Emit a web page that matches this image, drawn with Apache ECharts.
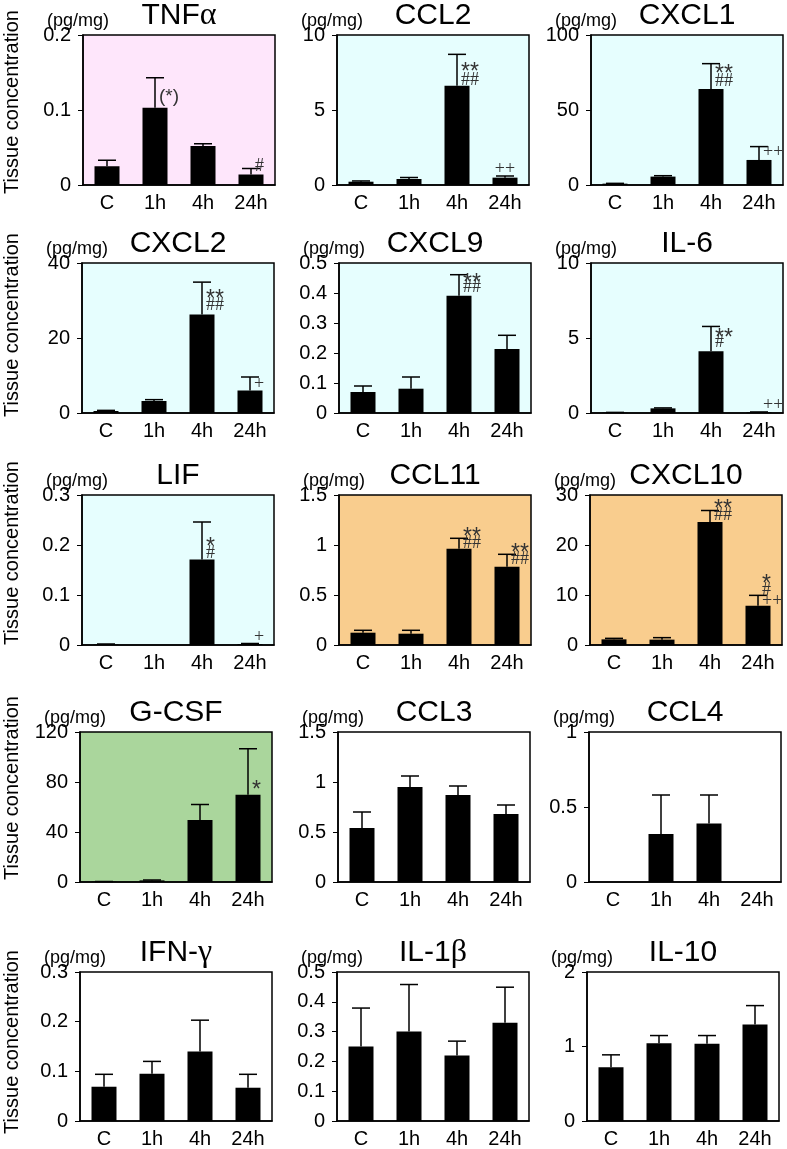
<!DOCTYPE html>
<html>
<head>
<meta charset="UTF-8">
<script src="https://cdn.jsdelivr.net/npm/echarts@6/dist/echarts.min.js"></script>
</head>
<body style="margin: 0; background: #fff;">
<div id="chart" style="width: 787px; height: 1149px;"></div>
<script>
// time points
var categories = ['C', '1h', '4h', '24h'];

// mean and error (upper whisker minus mean)
var tnfMean = [0.025, 0.103, 0.052, 0.014];
var tnfErr = [0.008, 0.040, 0.003, 0.008];
var ccl2Mean = [0.22, 0.40, 6.62, 0.49];
var ccl2Err = [0.05, 0.10, 2.09, 0.11];
var cxcl1Mean = [0.9, 5.6, 64.0, 16.7];
var cxcl1Err = [0.2, 0.6, 16.9, 8.9];
var cxcl2Mean = [0.53, 3.2, 26.3, 6.0];
var cxcl2Err = [0.17, 0.36, 8.6, 3.6];
var cxcl9Mean = [0.070, 0.081, 0.391, 0.213];
var cxcl9Err = [0.020, 0.039, 0.070, 0.046];
var il6Mean = [0.03, 0.31, 4.12, 0.05];
var il6Err = [0.01, 0.03, 1.65, 0.02];
var lifMean = [0.001, 0, 0.171, 0.002];
var lifErr = [0.001, 0, 0.075, 0.001];
var ccl11Mean = [0.123, 0.113, 0.963, 0.783];
var ccl11Err = [0.024, 0.034, 0.104, 0.124];
var cxcl10Mean = [1.13, 1.07, 24.6, 7.87];
var cxcl10Err = [0.20, 0.40, 2.3, 2.06];
var gcsfMean = [0.3, 1.3, 49.7, 69.8];
var gcsfErr = [0.1, 0.3, 12.3, 36.8];
var ccl3Mean = [0.54, 0.95, 0.87, 0.68];
var ccl3Err = [0.16, 0.11, 0.09, 0.09];
var ccl4Mean = [0, 0.32, 0.39, 0];
var ccl4Err = [0, 0.26, 0.19, 0];
var ifngMean = [0.069, 0.095, 0.140, 0.067];
var ifngErr = [0.025, 0.025, 0.063, 0.027];
var il1bMean = [0.25, 0.30, 0.22, 0.33];
var il1bErr = [0.129, 0.158, 0.048, 0.119];
var il10Mean = [0.723, 1.045, 1.036, 1.295];
var il10Err = [0.165, 0.102, 0.111, 0.254];

// significance marks: [category index, value at mark centre, text, 'c' = centred over bar]
var tnfNotes = [[1, 0.118, '(*)'], [3, 0.025, '#']];
var ccl2Notes = [[2, 7.82, '**'], [2, 7.0, '##'], [3, 1.04, '++', 'c']];
var cxcl1Notes = [[2, 76.7, '**'], [2, 69.3, '##'], [3, 21.6, '++']];
var cxcl2Notes = [[2, 31.6, '**'], [2, 28.7, '##'], [3, 7.75, '+']];
var cxcl9Notes = [[2, 0.448, '**'], [2, 0.419, '##']];
var il6Notes = [[2, 5.32, '**'], [2, 4.72, '#'], [3, 0.53, '++']];
var lifNotes = [[2, 0.205, '*'], [2, 0.184, '#'], [3, 0.015, '+']];
var ccl11Notes = [[2, 1.12, '**'], [2, 1.013, '##'], [3, 0.96, '**'], [3, 0.86, '##']];
var cxcl10Notes = [[2, 28.07, '**'], [2, 26.0, '##'], [3, 13.0, '*'], [3, 10.87, '#'], [3, 8.73, '++']];
var gcsfNotes = [[3, 77.2, '*']];

var PINK = '#fee6fb', CYAN = '#e6fefe', ORANGE = '#f9cd8e', GREEN = '#aad69c', WHITE = '#ffffff';

var panels = [
    { name: 'TNF', greek: 'α', mean: tnfMean, err: tnfErr, max: 0.2, step: 0.1, bg: PINK, notes: tnfNotes },
    { name: 'CCL2', mean: ccl2Mean, err: ccl2Err, max: 10, step: 5, bg: CYAN, notes: ccl2Notes },
    { name: 'CXCL1', mean: cxcl1Mean, err: cxcl1Err, max: 100, step: 50, bg: CYAN, notes: cxcl1Notes },
    { name: 'CXCL2', mean: cxcl2Mean, err: cxcl2Err, max: 40, step: 20, bg: CYAN, notes: cxcl2Notes },
    { name: 'CXCL9', mean: cxcl9Mean, err: cxcl9Err, max: 0.5, step: 0.1, bg: CYAN, notes: cxcl9Notes },
    { name: 'IL-6', mean: il6Mean, err: il6Err, max: 10, step: 5, bg: CYAN, notes: il6Notes },
    { name: 'LIF', mean: lifMean, err: lifErr, max: 0.3, step: 0.1, bg: CYAN, notes: lifNotes },
    { name: 'CCL11', mean: ccl11Mean, err: ccl11Err, max: 1.5, step: 0.5, bg: ORANGE, notes: ccl11Notes },
    { name: 'CXCL10', mean: cxcl10Mean, err: cxcl10Err, max: 30, step: 10, bg: ORANGE, notes: cxcl10Notes },
    { name: 'G-CSF', mean: gcsfMean, err: gcsfErr, max: 120, step: 40, bg: GREEN, notes: gcsfNotes },
    { name: 'CCL3', mean: ccl3Mean, err: ccl3Err, max: 1.5, step: 0.5, bg: WHITE, notes: [] },
    { name: 'CCL4', mean: ccl4Mean, err: ccl4Err, max: 1, step: 0.5, bg: WHITE, notes: [] },
    { name: 'IFN-', greek: 'γ', mean: ifngMean, err: ifngErr, max: 0.3, step: 0.1, bg: WHITE, notes: [] },
    { name: 'IL-1', greek: 'β', mean: il1bMean, err: il1bErr, max: 0.5, step: 0.1, bg: WHITE, notes: [] },
    { name: 'IL-10', mean: il10Mean, err: il10Err, max: 2, step: 1, bg: WHITE, notes: [] }
];

// layout of the 5x3 panels
var rowTop = [35, 263, 495, 732, 972];
var colLeft = [[83, 337, 591], [82, 339, 591], [82, 339, 590], [80, 338, 589], [80, 337, 587]];
var plotW = 192, plotH = 150;
var yNameCenter = [102, 325, 553, 788, 1042];
var FONT = '"Liberation Sans", Arial, sans-serif';

var grids = [], xAxes = [], yAxes = [], series = [], graphics = [];

function errorRenderer(params, api) {
    var e = api.value(2);
    if (!e) return;
    var p0 = api.coord([api.value(0), api.value(1)]);
    var p1 = api.coord([api.value(0), api.value(1) + e]);
    var st = { stroke: '#000', lineWidth: 1.5 };
    return {
        type: 'group',
        children: [
            { type: 'line', shape: { x1: p0[0], y1: p0[1], x2: p1[0], y2: p1[1] }, style: st },
            { type: 'line', shape: { x1: p1[0] - 9, y1: p1[1], x2: p1[0] + 9, y2: p1[1] }, style: st }
        ]
    };
}

function noteRenderer(notes) {
    return function (params, api) {
        var n = notes[params.dataIndex];
        var p = api.coord([n[0], n[1]]);
        var star = n[2].indexOf('*') >= 0;
        var paren = n[2].charAt(0) === '(';
        var centred = n[3] === 'c';
        var font = paren ? '19px "Liberation Sans"' : star ? '23px "Liberation Sans"' : '18px "Liberation Serif"';
        return {
            type: 'text',
            x: centred ? p[0] : p[0] + 4,
            y: p[1] + (star && !paren ? 5 : 0),
            style: {
                text: n[2],
                fill: '#333',
                font: font,
                align: centred ? 'center' : 'left',
                verticalAlign: 'middle'
            }
        };
    };
}

panels.forEach(function (pn, i) {
    var row = Math.floor(i / 3), col = i % 3;
    var left = colLeft[row][col], top = rowTop[row];

    grids.push({
        left: left, top: top, width: plotW, height: plotH,
        show: true, backgroundColor: pn.bg, borderColor: '#000', borderWidth: 1.5
    });
    xAxes.push({
        type: 'category', gridIndex: i, data: categories,
        axisLine: { lineStyle: { color: '#000', width: 1.5 } },
        axisTick: { length: 6, lineStyle: { color: '#000', width: 1 } },
        axisLabel: { color: '#000', fontSize: 20, fontFamily: FONT, margin: 8 }
    });
    yAxes.push({
        type: 'value', gridIndex: i, min: 0, max: pn.max, interval: pn.step,
        splitLine: { show: false },
        axisLine: { show: true, lineStyle: { color: '#000', width: 1.5 } },
        axisTick: { show: true, length: 5, lineStyle: { color: '#000', width: 1 } },
        axisLabel: { color: '#000', fontSize: 20, fontFamily: FONT, margin: 12 }
    });

    series.push({
        type: 'bar', xAxisIndex: i, yAxisIndex: i, data: pn.mean,
        barWidth: 25, itemStyle: { color: '#000' }, silent: true
    });
    series.push({
        type: 'custom', xAxisIndex: i, yAxisIndex: i, renderItem: errorRenderer,
        encode: { x: 0, y: 1 }, z: 3, silent: true,
        data: pn.mean.map(function (m, k) { return [k, m, pn.err[k]]; })
    });
    if (pn.notes.length) {
        series.push({
            type: 'custom', xAxisIndex: i, yAxisIndex: i, renderItem: noteRenderer(pn.notes),
            encode: { x: 0, y: 1 }, z: 4, clip: false, silent: true,
            data: pn.notes.map(function (n) { return [n[0], n[1]]; })
        });
    }

    // panel title
    var rich = {
        a: { fontSize: 30, fontFamily: FONT, fill: '#000' },
        g: { fontSize: 32, fontFamily: '"Liberation Serif", serif', fill: '#000' }
    };
    graphics.push({
        type: 'text', x: left + plotW / 2, y: top - 19,
        style: {
            text: '{a|' + pn.name + '}' + (pn.greek ? '{g|' + pn.greek + '}' : ''),
            rich: rich, align: 'center', verticalAlign: 'middle'
        }
    });
    graphics.push({
        type: 'text', x: left - 36, y: top - 14,
        style: { text: '(pg/mg)', font: '18px ' + FONT, fill: '#000', align: 'left', verticalAlign: 'middle' }
    });
    if (col === 0) {
        graphics.push({
            type: 'text', x: 12, y: yNameCenter[row], rotation: Math.PI / 2,
            style: { text: 'Tissue concentration', font: '20px ' + FONT, fill: '#000', align: 'center', verticalAlign: 'middle' }
        });
    }
});

var chart = echarts.init(document.getElementById('chart'));
chart.setOption({
    animation: false,
    backgroundColor: '#fff',
    grid: grids,
    xAxis: xAxes,
    yAxis: yAxes,
    series: series,
    graphic: graphics
});
</script>
</body>
</html>
